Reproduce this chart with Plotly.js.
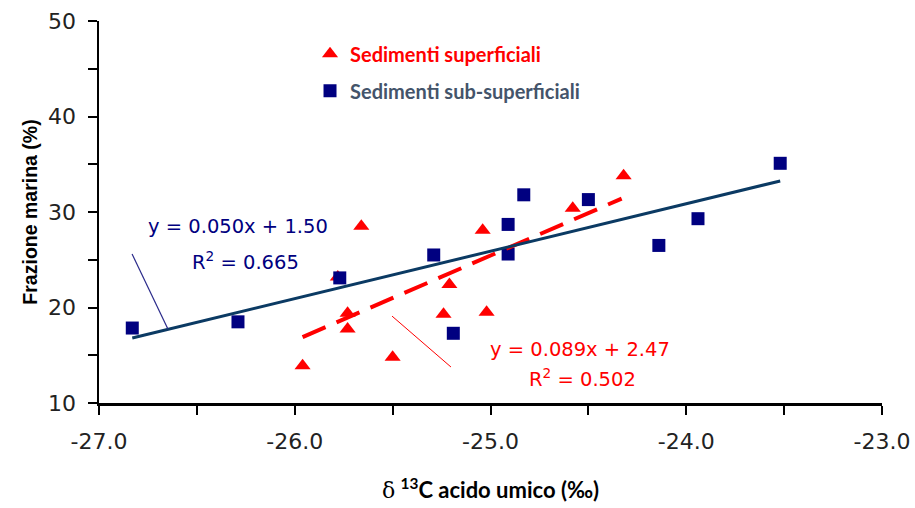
<!DOCTYPE html>
<html><head><meta charset="utf-8">
<script src="https://cdn.plot.ly/plotly-3.0.1.min.js"></script>
<style>html,body{margin:0;padding:0;background:#fff}</style>
</head><body><div id="chart" style="width:915px;height:508px"></div>
<script>
// Data
const supName = 'Sedimenti superficiali';
const subName = 'Sedimenti sub-superficiali';
const supX = [-25.96, -25.78, -25.66, -25.73, -25.73, -25.50, -25.21, -25.24, -25.02, -25.04, -24.58, -24.32];
const supY = [13.9, 23.2, 28.5, 19.4, 17.75, 14.8, 22.4, 19.3, 19.5, 28.1, 30.4, 33.8];
const subX = [-26.83, -26.29, -25.77, -25.29, -25.19, -24.91, -24.91, -24.83, -24.50, -24.14, -23.94, -23.52];
const subY = [17.85, 18.5, 23.1, 25.5, 17.3, 28.7, 25.6, 31.8, 31.3, 26.5, 29.3, 35.1];
const supTrendX = [-25.96, -24.33];
const supTrendY = [16.9, 31.4];
const subTrendX = [-26.83, -23.52];
const subTrendY = [16.8, 33.25];
const xTickVals = [-27, -26, -25, -24, -23];
const xTickText = ['-27.0', '-26.0', '-25.0', '-24.0', '-23.0'];
const yTickVals = [10, 20, 30, 40, 50];
const subEq = ['y = 0.050x + 1.50', 'R<sup>2</sup> = 0.665'];
const supEq = ['y = 0.089x + 2.47', 'R<sup>2</sup> = 0.502'];

const RED = '#ff0000';
const NAVY = '#000080';
const LINE_BLUE = '#0b3a63';

const traces = [
  {x: supX, y: supY, type: 'scatter', mode: 'markers', name: '<b><span style="color:#ff0000">' + supName + '</span></b>',
   legendgroup: 'a', marker: {symbol: 'triangle-up', size: 14, color: RED}},
  {x: subX, y: subY, type: 'scatter', mode: 'markers', name: '<b><span style="color:#44546a">' + subName + '</span></b>',
   legendgroup: 'b', marker: {symbol: 'square', size: 13, color: NAVY}},
  {x: supTrendX, y: supTrendY, type: 'scatter', mode: 'lines', showlegend: false, hoverinfo: 'skip',
   line: {color: RED, width: 4, dash: '25px,12px'}},
  {x: subTrendX, y: subTrendY, type: 'scatter', mode: 'lines', showlegend: false, hoverinfo: 'skip',
   line: {color: LINE_BLUE, width: 3}}
];

const axisCommon = {
  showgrid: false, zeroline: false, showline: true, linecolor: '#000', linewidth: 2.5,
  ticks: 'outside', ticklen: 9, tickwidth: 2, tickcolor: '#000',
  tickfont: {family: 'DejaVu Sans', size: 22, color: '#222'}
};

const layout = {
  width: 915, height: 508,
  margin: {l: 99, r: 33, t: 21, b: 105},
  paper_bgcolor: '#fff', plot_bgcolor: '#fff',
  showlegend: true,
  legend: {x: 0.2695, y: 0.965, xanchor: 'left', yanchor: 'top', traceorder: 'grouped', tracegroupgap: 8,
           font: {family: 'Lato', size: 20}, bgcolor: 'rgba(0,0,0,0)'},
  xaxis: Object.assign({}, axisCommon, {
    range: [-27, -23], tickvals: xTickVals, ticktext: xTickText, ticklabelstandoff: 8,
    minor: {dtick: 0.5, ticks: 'outside', ticklen: 9, tickwidth: 2, tickcolor: '#000', showgrid: false},
    title: {text: '<span style="font-family:DejaVu Serif;font-weight:normal">δ</span> <sup>13</sup>C acido umico (‰)',
            font: {family: 'Lato', size: 22, color: '#000', weight: 'bold'}, standoff: 30}
  }),
  yaxis: Object.assign({}, axisCommon, {
    range: [10, 50], tickvals: yTickVals, ticklabelstandoff: 7,
    minor: {dtick: 5, ticks: 'outside', ticklen: 9, tickwidth: 2, tickcolor: '#000', showgrid: false},
    title: {text: '<b>Frazione marina (%)</b>', font: {family: 'Liberation Sans', size: 19.5, color: '#000'}, standoff: 6}
  }),
  annotations: [
    {x: -26.29, y: 28.45, xref: 'x', yref: 'y', text: subEq[0], showarrow: false, font: {family: 'DejaVu Sans', size: 19.5, color: NAVY}},
    {x: -26.25, y: 24.85, xref: 'x', yref: 'y', text: subEq[1], showarrow: false, font: {family: 'DejaVu Sans', size: 19.5, color: NAVY}},
    {x: -24.545, y: 15.65, xref: 'x', yref: 'y', text: supEq[0], showarrow: false, font: {family: 'DejaVu Sans', size: 19.5, color: RED}},
    {x: -24.53, y: 12.6, xref: 'x', yref: 'y', text: supEq[1], showarrow: false, font: {family: 'DejaVu Sans', size: 19.5, color: RED}}
  ],
  shapes: [
    {type: 'line', xref: 'x', yref: 'y', x0: -26.831, y0: 25.6, x1: -26.648, y1: 17.75, line: {color: '#2a2a8a', width: 1.2}},
    {type: 'line', xref: 'x', yref: 'y', x0: -25.503, y0: 19.1, x1: -25.202, y1: 13.77, line: {color: RED, width: 1}}
  ]
};

Plotly.newPlot('chart', traces, layout, {displayModeBar: false, staticPlot: true});
</script></body></html>
